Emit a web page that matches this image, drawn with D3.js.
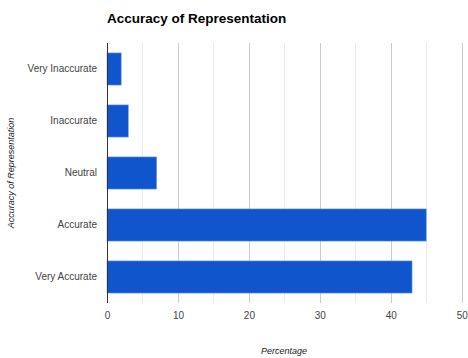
<!DOCTYPE html>
<html>
<head>
<meta charset="utf-8">
<script src="https://cdn.jsdelivr.net/npm/d3@7"></script>
<style>
  html, body { margin: 0; padding: 0; background: #fff; }
  svg { display: block; font-family: Arial, "Liberation Sans", sans-serif; }
</style>
</head>
<body>
<svg id="chart" width="468" height="358"></svg>
<script>
// Survey responses: share of respondents per rating
const categories = ["Very Inaccurate", "Inaccurate", "Neutral", "Accurate", "Very Accurate"];
const percentages = [2, 3, 7, 45, 43];
const xTicks = [0, 10, 20, 30, 40, 50];
const xMinorTicks = [5, 15, 25, 35, 45];

const FONT = "Arial, 'Liberation Sans', sans-serif";
const svg = d3.select("#chart");
const margin = { left: 107, right: 6, top: 43, bottom: 55 };
const W = 468, H = 358;

const x = d3.scaleLinear().domain([0, 50]).range([margin.left, 461.7]);
const y = d3.scaleBand().domain(categories)
  .range([margin.top, H - margin.bottom])
  .paddingInner(0.382).paddingOuter(0.191);

const plotTop = margin.top, plotBottom = H - margin.bottom;

// minor gridlines
svg.append("g").selectAll("line").data(xMinorTicks).join("line")
  .attr("x1", d => Math.round(x(d)) + 0.5).attr("x2", d => Math.round(x(d)) + 0.5)
  .attr("y1", plotTop).attr("y2", plotBottom)
  .attr("stroke", "#ebebeb").attr("stroke-width", 1);

// major gridlines
svg.append("g").selectAll("line").data(xTicks.slice(1)).join("line")
  .attr("x1", d => Math.round(x(d)) + 0.5).attr("x2", d => Math.round(x(d)) + 0.5)
  .attr("y1", plotTop).attr("y2", plotBottom)
  .attr("stroke", "#cccccc").attr("stroke-width", 1);

// bars
svg.append("g").selectAll("rect").data(categories).join("rect")
  .attr("x", x(0))
  .attr("y", d => y(d))
  .attr("width", (d, i) => x(percentages[i]) - x(0))
  .attr("height", y.bandwidth())
  .attr("fill", "#1155cc")
  .attr("stroke", "#6d9eeb")
  .attr("stroke-width", 0.6);

// baseline
svg.append("line")
  .attr("x1", Math.round(x(0)) + 0.5).attr("x2", Math.round(x(0)) + 0.5)
  .attr("y1", plotTop).attr("y2", plotBottom)
  .attr("stroke", "#333").attr("stroke-width", 1);

// x axis tick labels
const xAxis = d3.axisBottom(x).tickValues(xTicks).tickSize(0).tickPadding(0);
const gx = svg.append("g").attr("transform", `translate(0,${plotBottom + 16})`).call(xAxis);
gx.select(".domain").remove();
gx.selectAll("text").attr("fill", "#444").attr("font-size", 10)
  .attr("font-family", FONT).attr("dy", "0");

// y axis category labels
const yAxis = d3.axisLeft(y).tickSize(0).tickPadding(10);
const gy = svg.append("g").attr("transform", `translate(${x(0)},0)`).call(yAxis);
gy.select(".domain").remove();
gy.selectAll("text").attr("fill", "#444").attr("font-size", 10)
  .attr("font-family", FONT);

// title
svg.append("text")
  .attr("x", 107).attr("y", 23)
  .attr("font-size", 13.5).attr("font-weight", "bold").attr("fill", "#000")
  .attr("font-family", FONT)
  .text("Accuracy of Representation");

// axis titles
svg.append("text")
  .attr("x", 284).attr("y", 354)
  .attr("text-anchor", "middle").attr("font-size", 9).attr("font-style", "italic").attr("fill", "#222")
  .attr("font-family", FONT)
  .text("Percentage");

svg.append("text")
  .attr("transform", `translate(14,${(plotTop + plotBottom) / 2}) rotate(-90)`)
  .attr("text-anchor", "middle").attr("font-size", 9).attr("font-style", "italic").attr("fill", "#222")
  .attr("font-family", FONT)
  .text("Accuracy of Representation");
</script>
</body>
</html>
